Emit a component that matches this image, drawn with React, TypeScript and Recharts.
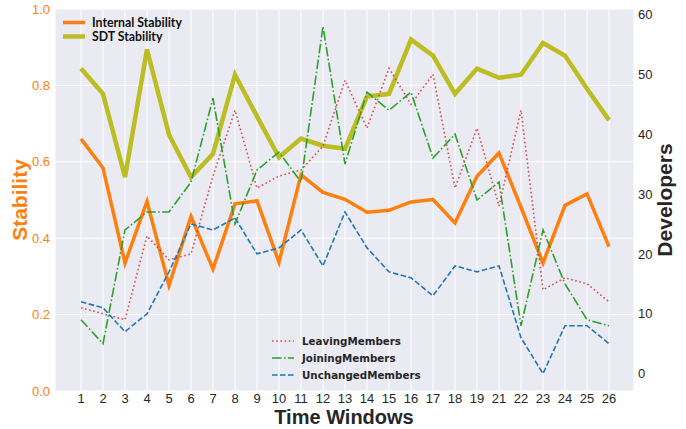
import { LineChart, Line, XAxis, YAxis, CartesianGrid, Customized } from 'recharts';

const windows = ['1', '2', '3', '4', '5', '6', '7', '8', '9', '10', '11', '12', '13', '14', '15', '16', '17', '18', '19', '21', '22', '23', '24', '25', '26'];
const internalStability = [0.66, 0.584, 0.335, 0.496, 0.276, 0.457, 0.319, 0.49, 0.498, 0.337, 0.566, 0.52, 0.502, 0.468, 0.473, 0.495, 0.501, 0.44, 0.562, 0.623, 0.481, 0.335, 0.486, 0.516, 0.378];
const sdtStability = [0.844, 0.778, 0.56, 0.894, 0.671, 0.56, 0.621, 0.828, 0.719, 0.612, 0.661, 0.642, 0.634, 0.771, 0.778, 0.92, 0.878, 0.778, 0.844, 0.82, 0.828, 0.911, 0.878, 0.791, 0.709];
const leavingMembers = [11, 10, 9, 23, 19, 20, 33, 44, 31, 33, 34, 38, 49, 41, 51, 45, 50, 31, 41, 28, 44, 14, 16, 15, 12];
const joiningMembers = [9, 5, 24, 27, 27, 32, 46, 25, 34, 37, 32, 58, 35, 47, 44, 47, 36, 40, 29, 32, 8, 24, 15, 9, 8];
const unchangedMembers = [12, 11, 7, 10, 17, 25, 24, 26, 20, 21, 24, 18, 27, 21, 17, 16, 13, 18, 17, 18, 6, 0, 8, 8, 5];

const stabilityTicks = [0, 0.2, 0.4, 0.6, 0.8, 1.0];
const developerTicks = [0, 10, 20, 30, 40, 50, 60];

const data = windows.map((w, i) => ({
  window: w,
  internal: internalStability[i],
  sdt: sdtStability[i],
  leaving: leavingMembers[i],
  joining: joiningMembers[i],
  unchanged: unchangedMembers[i],
}));

const ORANGE = '#ff7f0e';
const OLIVE = '#bcbd22';
const TEXT = '#262626';
const FONT = '"Liberation Sans", Arial, sans-serif';

const topLegend = [
  { name: 'Internal Stability', color: ORANGE, width: 3.5 },
  { name: 'SDT Stability', color: OLIVE, width: 4.5 },
];

const bottomLegend = [
  { name: 'LeavingMembers', color: '#d62728', width: 1.6, dash: '1.6 2.6', opacity: 0.8 },
  { name: 'JoiningMembers', color: '#2ca02c', width: 1.6, dash: '9.6 2.4 1.6 2.4', opacity: 1 },
  { name: 'UnchangedMembers', color: '#1f77b4', width: 1.6, dash: '5.6 2.4', opacity: 1 },
];

function Overlay() {
  return (
    <g>
      {topLegend.map((item, i) => (
        <g key={item.name}>
          <line x1={63} x2={85} y1={22.5 + i * 14} y2={22.5 + i * 14} stroke={item.color} strokeWidth={item.width} />
          <text x={92} y={22.5 + i * 14} dy="0.35em" fontSize={12.3} fontWeight="bold" fill="#111" fontFamily="Lato, sans-serif">
            {item.name}
          </text>
        </g>
      ))}
      {bottomLegend.map((item, i) => (
        <g key={item.name}>
          <line x1={272} x2={294} y1={341 + i * 17} y2={341 + i * 17} stroke={item.color} strokeWidth={item.width} strokeDasharray={item.dash} strokeOpacity={item.opacity} />
          <text x={302} y={341 + i * 17} dy="0.35em" fontSize={10.3} fontWeight="bold" fill={TEXT} fontFamily='"DejaVu Sans", sans-serif'>
            {item.name}
          </text>
        </g>
      ))}
      <text x={20} y={200} transform="rotate(-90 20 200)" textAnchor="middle" dy="0.35em" fontSize={21} fontWeight="bold" fill={ORANGE} fontFamily={FONT}>
        Stability
      </text>
      <text x={665} y={200} transform="rotate(-90 665 200)" textAnchor="middle" dy="0.35em" fontSize={21} fontWeight="bold" fill={TEXT} fontFamily={FONT}>
        Developers
      </text>
      <text x={344} y={417} textAnchor="middle" dy="0.35em" fontSize={20} fontWeight="bold" fill={TEXT} fontFamily={FONT}>
        Time Windows
      </text>
    </g>
  );
}

export default function App() {
  return (
    <div style={{ position: 'absolute', left: 0, top: 0, width: 686, height: 429, background: '#fff' }}>
      <LineChart width={686} height={429} data={data} margin={{ top: 9, right: 0, bottom: 0, left: 0 }}>
        <CartesianGrid yAxisId="left" fill="#eaeaf2" stroke="#ffffff" strokeWidth={1} />
        <XAxis
          dataKey="window"
          height={38}
          padding={{ left: 26, right: 25 }}
          axisLine={false}
          tickLine={false}
          tickSize={0}
          tickMargin={3}
          interval={0}
          tick={{ fill: TEXT, fontSize: 13, fontFamily: FONT }}
        />
        <YAxis
          yAxisId="left"
          width={55}
          domain={[0, 1]}
          ticks={stabilityTicks}
          tickFormatter={(v: number) => v.toFixed(1)}
          axisLine={false}
          tickLine={false}
          tickSize={0}
          tickMargin={5}
          tick={{ fill: ORANGE, fontSize: 13, fontFamily: FONT }}
        />
        <YAxis
          yAxisId="right"
          orientation="right"
          width={52}
          domain={[-2.9, 60.9]}
          allowDataOverflow
          ticks={developerTicks}
          axisLine={false}
          tickLine={false}
          tickSize={0}
          tickMargin={4}
          tick={{ fill: TEXT, fontSize: 13, fontFamily: FONT }}
        />
        <Line yAxisId="left" dataKey="internal" stroke={ORANGE} strokeWidth={3.5} dot={false} isAnimationActive={false} />
        <Line yAxisId="left" dataKey="sdt" stroke={OLIVE} strokeWidth={4.5} dot={false} isAnimationActive={false} />
        <Line yAxisId="right" dataKey="leaving" stroke="#d62728" strokeOpacity={0.8} strokeWidth={1.6} strokeDasharray="1.6 2.6" dot={false} isAnimationActive={false} />
        <Line yAxisId="right" dataKey="joining" stroke="#2ca02c" strokeWidth={1.6} strokeDasharray="9.6 2.4 1.6 2.4" dot={false} isAnimationActive={false} />
        <Line yAxisId="right" dataKey="unchanged" stroke="#1f77b4" strokeWidth={1.6} strokeDasharray="5.6 2.4" dot={false} isAnimationActive={false} />
        <Customized component={Overlay} />
      </LineChart>
    </div>
  );
}
